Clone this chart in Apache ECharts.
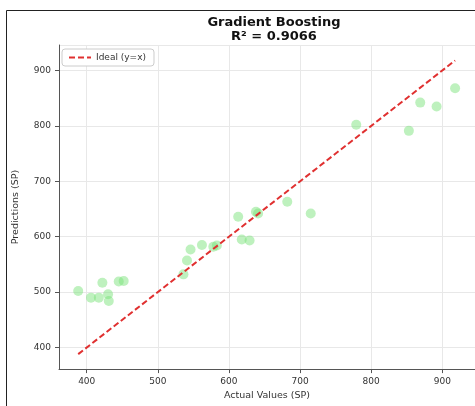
<!DOCTYPE html>
<html>
<head>
<meta charset="utf-8">
<script src="https://cdn.jsdelivr.net/npm/echarts@6/dist/echarts.min.js"></script>
<style>html,body{margin:0;padding:0;background:#fff}#c{width:475px;height:406px}</style>
</head>
<body>
<div id="c"></div>
<script>
const titleText = 'Gradient Boosting';
const r2Text = 'R² = 0.9066';
const xName = 'Actual Values (SP)';
const yName = 'Predictions (SP)';
const legendName = 'Ideal (y=x)';
const actualValues = [388, 406, 417, 422, 430, 431, 445, 452, 536, 541, 546, 562, 578, 583, 613, 618, 629, 638, 641, 682, 715, 779, 853, 869, 892, 918];
const predictedValues = [502, 490, 490, 517, 496, 484, 519, 520, 532, 557, 577, 585, 582, 584, 636, 595, 593, 645, 642, 663, 642, 802, 791, 842, 835, 868];
const axisMin = 361;
const axisMax = 946;

const lo = Math.min(...actualValues, ...predictedValues);
const hi = Math.max(...actualValues, ...predictedValues);
const scatterData = actualValues.map((v, i) => [v, predictedValues[i]]);
const idealData = [[lo, lo], [hi, hi]];

const chart = echarts.init(document.getElementById('c'), null, {renderer: 'canvas'});
const axisCommon = {
  type: 'value', min: axisMin, max: axisMax, splitNumber: 5,
  axisLine: {show: true, onZero: false, lineStyle: {color: '#555', width: 1}},
  axisTick: {show: true, inside: false, length: 4, lineStyle: {color: '#555'}},
  axisLabel: {showMinLabel: false, showMaxLabel: false, color: '#333', fontSize: 9, fontFamily: 'DejaVu Sans'},
  splitLine: {show: true, lineStyle: {color: '#e8e8e8', width: 1}},
  nameLocation: 'middle',
  nameTextStyle: {color: '#333', fontSize: 9.5, fontFamily: 'DejaVu Sans'}
};
chart.setOption({
  animation: false,
  title: {
    text: titleText + '\n' + r2Text,
    left: 269, top: 11, textAlign: 'center',
    textStyle: {fontSize: 13, fontWeight: 'bold', color: '#111', fontFamily: 'DejaVu Sans', lineHeight: 14}
  },
  legend: {
    data: [legendName], left: 62, top: 49,
    backgroundColor: '#fff', borderColor: '#ccc', borderWidth: 1, borderRadius: 3,
    padding: [4, 8, 4, 6], itemWidth: 22, itemHeight: 8, itemGap: 6,
    itemStyle: {opacity: 0},
    textStyle: {fontSize: 9, color: '#333', fontFamily: 'DejaVu Sans'}
  },
  grid: {left: 59, top: 45, width: 420, height: 327},
  xAxis: Object.assign({}, axisCommon, {name: xName, nameGap: 19}),
  yAxis: Object.assign({}, axisCommon, {name: yName, nameGap: 38}),
  graphic: [{
    type: 'rect', z: 100, silent: true,
    shape: {x: 6.5, y: 10.5, width: 600, height: 600},
    style: {fill: 'none', stroke: '#222', lineWidth: 1}
  }],
  series: [
    {
      type: 'scatter', name: 'data', data: scatterData, symbolSize: 10,
      itemStyle: {color: 'rgba(120,225,120,0.6)'}, z: 2
    },
    {
      type: 'line', name: legendName, data: idealData, symbol: 'none', z: 3,
      lineStyle: {color: '#e03030', width: 2, type: [6, 3]}
    }
  ]
});
</script>
</body>
</html>
